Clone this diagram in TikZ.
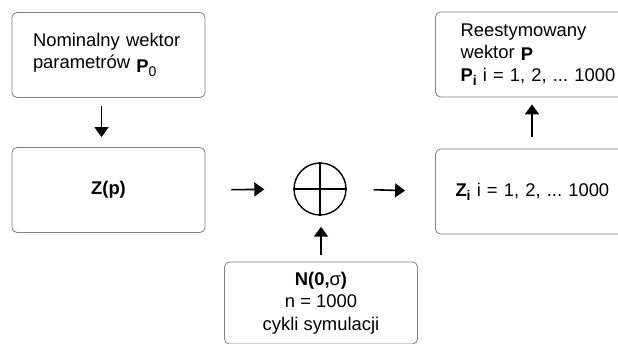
\documentclass[tikz,border=0pt]{standalone}
\usepackage{fontspec}
\setmainfont{Liberation Sans}
\usetikzlibrary{arrows.meta}
\frenchspacing
\tikzstyle{blok} = [draw=black!50, line width=0.8pt, rounded corners=5pt, minimum width=193pt, minimum height=85pt, inner sep=0pt]
\tikzstyle{lewy} = [blok, inner xsep=21pt, text width=151pt, align=left]
\tikzstyle{sumator} = [circle, draw=black, line width=1.4pt, minimum size=52pt, inner sep=0pt]
\tikzstyle{strzalka} = [-{Triangle[width=14pt,length=10pt]}, line width=1.6pt]
\newcommand{\dol}[2]{#1\raisebox{-4pt}{\fontsize{14}{14}\selectfont #2}}

\begin{document}
\begin{tikzpicture}[x=1pt, y=-1pt, font=\fontsize{18.4}{22.5}\selectfont]%
	\clip (0,0) rectangle (618,343);%
	\fill[white] (0,0) rectangle (618,343);%
	\node [lewy] (nom) at (108.5,55) {Nominalny wektor\\ parametrów \raisebox{-4pt}{\dol{\textbf{P}}{0}}};%
	\node [blok] (zp) at (108.5,190) {\textbf{Z(p)}};%
	\node [sumator] (sum) at (320,189) {};%
	\draw [line width=1.4pt] (sum.north) -- (sum.south) (sum.west) -- (sum.east);%
	\node [lewy, inner xsep=20pt, text width=153pt] (zi) at (532,191.5) {\mbox{\dol{\textbf{Z}}{\textbf{i}} i = 1, 2, ... 1000}};%
	\node [lewy, inner xsep=25pt, text width=143pt] (rp) at (532,54.5) {Reestymowany\\ wektor \raisebox{-2pt}{\textbf{P}}\\ \mbox{\dol{\textbf{P}}{\textbf{i}} i = 1, 2, ... 1000}};%
	\node [blok, minimum height=82pt, align=center] (szum) at (321,303) {\textbf{N(0,}σ\textbf{)}\\ n = 1000\\ cykli symulacji};%
	% strzalki
	\draw [strzalka, shorten <=8pt, shorten >=10pt] ([xshift=-7pt]nom.south) -- ([xshift=-7pt]zp.north);%
	\draw [strzalka, shorten <=26pt, shorten >=29pt] (zp.east) -- (sum.west);%
	\draw [strzalka, shorten <=27pt, shorten >=30pt] (sum.east) -- (zi.west);%
	\draw [strzalka, shorten <=12pt, shorten >=7pt] (zi.north) -- (rp.south);%
	\draw [strzalka, shorten <=7pt, shorten >=11pt] (szum.north) -- (szum.north |- sum.south);%
\end{tikzpicture}
\end{document}
